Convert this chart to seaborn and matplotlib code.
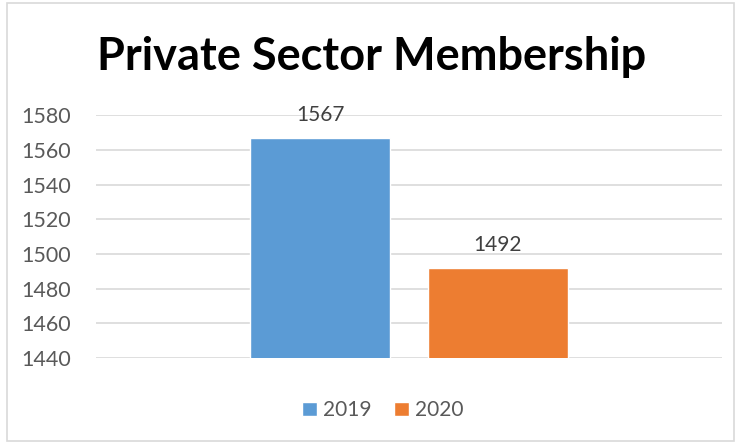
import matplotlib
matplotlib.use("Agg")
import matplotlib.pyplot as plt
import pandas as pd
import seaborn as sns
from matplotlib.patches import Rectangle

# chart data
years = ["2019", "2020"]
members = [1567, 1492]
colors = ["#5B9BD5", "#ED7D31"]
y_ticks = [1440, 1460, 1480, 1500, 1520, 1540, 1560, 1580]

df = pd.DataFrame({"group": ["Private Sector"] * len(years), "year": years, "members": members})

sns.set_theme(style="white")
plt.rcParams["font.family"] = ["Lato", "DejaVu Sans"]

fig = plt.figure(figsize=(7.39, 4.46), dpi=100)
ax = fig.add_axes([0.130, 0.197, 0.847, 0.545])

sns.barplot(
    data=df, x="group", y="members", hue="year",
    palette=colors, saturation=1, width=0.567, gap=0.21, ax=ax, legend=True,
)

ax.set_ylim(1440, 1580)
ax.set_xlim(-0.5, 0.5)
ax.set_yticks(y_ticks)
ax.tick_params(axis="y", labelsize=15.5, labelcolor="#595959", length=0, pad=18)
ax.set_xticks([])
ax.set_xlabel("")
ax.set_ylabel("")
ax.yaxis.grid(True, color="#D9D9D9", linewidth=1.2)
ax.set_axisbelow(True)
for side in ax.spines.values():
    side.set_visible(False)

for cont in ax.containers:
    ax.bar_label(cont, fmt="%d", padding=9, fontsize=15, color="#404040")

handles, labels = ax.get_legend_handles_labels()
ax.legend_.remove()
fig.legend(
    handles, labels, loc="center", bbox_to_anchor=(0.518, 0.08), ncol=2,
    frameon=False, fontsize=15, labelcolor="#595959",
    handlelength=0.7, handleheight=0.7, handletextpad=0.3, columnspacing=1.1,
)

fig.text(0.503, 0.872, "Private Sector Membership", ha="center", va="center",
         fontsize=32.5, fontweight="bold", color="black")

# light chart border
fig.patches.append(Rectangle((7 / 739, 5 / 446), 727 / 739, 438 / 446,
                             transform=fig.transFigure, fill=False,
                             edgecolor="#D9D9D9", linewidth=1.2))

fig.savefig("out.png", dpi=100)
